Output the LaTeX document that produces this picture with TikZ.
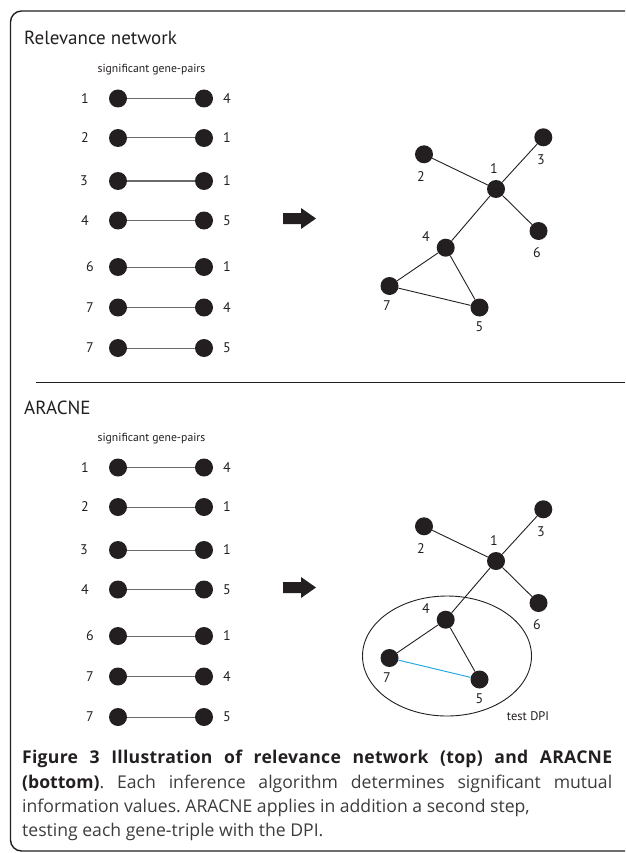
\documentclass[tikz,border=0pt]{standalone}
\usepackage{fontspec}
\setmainfont{PT Sans}
\newfontfamily\capfont{Open Sans}
\usetikzlibrary{shapes.geometric}
\definecolor{ink}{HTML}{231F20}
\definecolor{capgray}{HTML}{3C3C3C}
\definecolor{pairgray}{HTML}{6A6A6A}
\definecolor{dpiblue}{HTML}{29ABE2}
\begin{document}
\frenchspacing
\begin{tikzpicture}[x=1pt,y=-1pt,
  dot/.style={circle,fill=ink,inner sep=0pt,minimum size=18pt},
  pairline/.style={draw=pairgray,line width=1pt},
  edge/.style={draw=ink,line width=0.9pt},
  lab/.style={text=ink,font=\fontsize{14}{14}\selectfont,inner sep=0pt},
  head/.style={text=ink,font=\fontsize{19}{19}\selectfont,inner sep=0pt,anchor=base west},
  small/.style={text=ink,font=\fontsize{11.7}{11.7}\selectfont,inner sep=0pt},
  capline/.style={text=capgray,font=\capfont\fontsize{17.6}{17.6}\selectfont,inner sep=0pt,anchor=base west}]
\useasboundingbox (0,0) rectangle (625,853);
\begin{scope}
\clip (0,0) rectangle (625,853);
\draw[draw=ink,line width=1.4pt,rounded corners=11pt] (660,851) -- (10.5,851) -- (10.5,11) -- (660,11);
\end{scope}
\draw[draw=ink,line width=1pt] (36,382) -- (625,382);
% section headings
\node[head] (hA) at (24,45) {Relevance network};
\node[head] (hB) at (24,414) {ARACNE};
\foreach \s/\off/\noff in {A/0/0,B/369/372}{
  \begin{scope}[yshift=-\off pt]
  \node[small] (\s-sig) at (151.5,70) {significant gene-pairs};
  \foreach \i/\y/\a/\b/\lx in {1/98.5/1/4/85,2/138/2/1/85,3/181/3/1/84,4/220.5/4/5/85,5/267/6/1/90,6/307.5/7/4/90,7/348/7/5/90}{
    \node[dot] (\s-l\i) at (118,\y) {};
    \node[dot] (\s-r\i) at (204,\y) {};
    \draw[pairline] (\s-l\i) -- (\s-r\i);
    \node[lab] (\s-la\i) at (\lx,\y) {\a};
    \node[lab] (\s-lb\i) at (227,\y) {\b};
  }
  \fill[ink] (283,213) -- (301,213) -- (301,208) -- (316,218.5) -- (301,229) -- (301,224) -- (283,224) -- cycle;
  \end{scope}
  \begin{scope}[yshift=-\noff pt]
  \node[dot] (\s-n1) at (496,189) {};
  \node[dot] (\s-n2) at (424,154.3) {};
  \node[dot] (\s-n3) at (543.3,137.3) {};
  \node[dot] (\s-n4) at (445.7,247.7) {};
  \node[dot] (\s-n5) at (479.5,307.5) {};
  \node[dot] (\s-n6) at (538.5,231) {};
  \node[dot] (\s-n7) at (389.5,286) {};
  \node[lab] (\s-t1) at (494,169) {1};
  \node[lab] (\s-t2) at (421,177) {2};
  \node[lab] (\s-t3) at (541,159.5) {3};
  \node[lab] (\s-t4) at (426,237) {4};
  \node[lab] (\s-t5) at (479.5,327) {5};
  \node[lab] (\s-t6) at (537,253) {6};
  \node[lab] (\s-t7) at (387,306) {7};
  \draw[edge] (\s-n2) -- (\s-n1);
  \draw[edge] (\s-n3) -- (\s-n1);
  \draw[edge] (\s-n1) -- (\s-n6);
  \draw[edge] (\s-n1) -- (\s-n4);
  \draw[edge] (\s-n4) -- (\s-n7);
  \draw[edge] (\s-n4) -- (\s-n5);
  \end{scope}
}
\draw[edge] (A-n7) -- (A-n5);
\draw[draw=dpiblue,line width=1pt] (B-n7) -- (B-n5);
\node[draw=ink,line width=0.9pt,ellipse,minimum width=169pt,minimum height=120pt,inner sep=0pt] (dpi) at (447,656) {};
\node[small,font=\fontsize{12.5}{12.5}\selectfont] (dpilab) at (528,716) {test DPI};
% caption
\node[capline] (c1) at (22,763) {\makebox[590pt][s]{\bfseries\addfontfeature{LetterSpace=1.5}\color{ink}Figure 3 Illustration of relevance network (top) and ARACNE}};
\node[capline] (c2) at (22,788) {\makebox[590pt][s]{\textbf{\color{ink}(bottom)}. Each inference algorithm determines significant mutual}};
\node[capline] (c3) at (22,812) {information values. ARACNE applies in addition a second step,};
\node[capline] (c4) at (22,836) {testing each gene-triple with the DPI.};
\end{tikzpicture}
\end{document}
